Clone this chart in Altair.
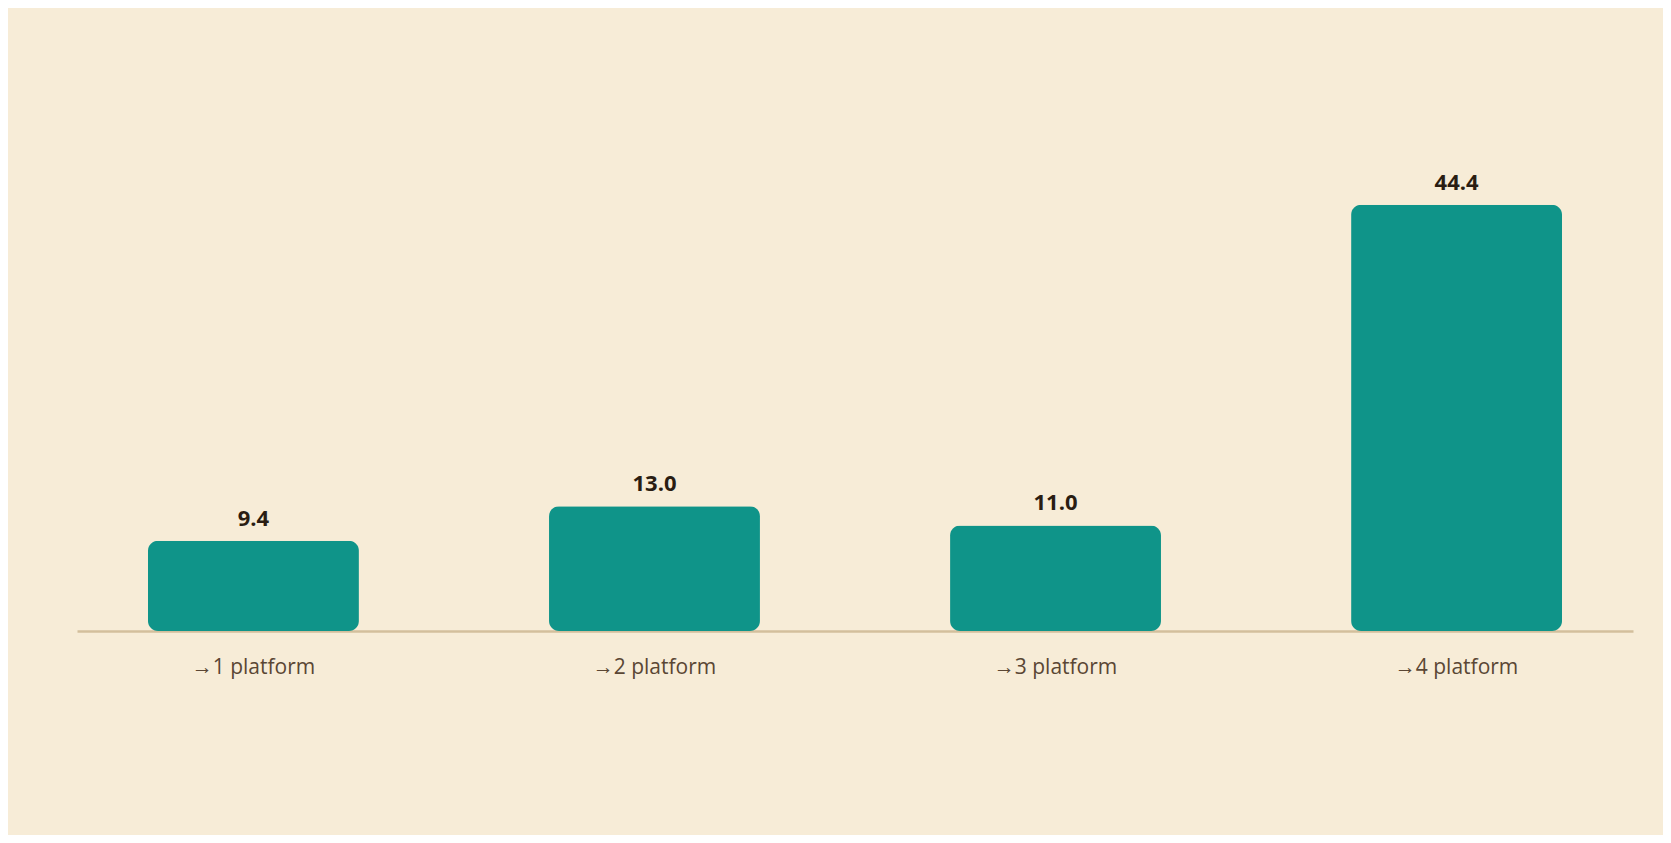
import altair as alt
import pandas as pd

categories = ["→1 platform", "→2 platform", "→3 platform", "→4 platform"]
values = [9.4, 13.0, 11.0, 44.4]
value_labels = ["9.4", "13.0", "11.0", "44.4"]

df = pd.DataFrame({"cat": categories, "val": values, "lab": value_labels})

BG = "#F7ECD7"

x = alt.X(
    "cat:N",
    sort=categories,
    title=None,
    scale=alt.Scale(paddingInner=0.474, paddingOuter=0.177),
    axis=alt.Axis(
        domain=True,
        domainColor="#D3BF9C",
        domainWidth=2.5,
        ticks=False,
        labelAngle=0,
        labelFont="Open Sans",
        labelFontSize=21,
        labelColor="#5A4634",
        labelPadding=42,
        labelBaseline="alphabetic",
        grid=False,
    ),
)
y = alt.Y(
    "val:Q",
    title=None,
    scale=alt.Scale(domain=[0, 50], nice=False),
    axis=None,
)

bars = alt.Chart(df).mark_bar(color="#0F9489", cornerRadius=10).encode(x=x, y=y)
labels = alt.Chart(df).mark_text(
    font="Open Sans",
    fontSize=22,
    fontWeight="bold",
    color="#2A1D12",
    baseline="alphabetic",
    dy=-15,
).encode(x=x, y=y, text="lab:N")

chart = (
    alt.layer(bars, labels)
    .properties(
        width=1556,
        height=480,
        background=BG,
        autosize=alt.AutoSizeParams(type="none"),
        padding={"left": 69, "top": 143, "right": 30, "bottom": 204},
    )
    .configure_view(stroke=None)
)

chart.save("out.html", embed_options={"renderer": "svg", "actions": False})
